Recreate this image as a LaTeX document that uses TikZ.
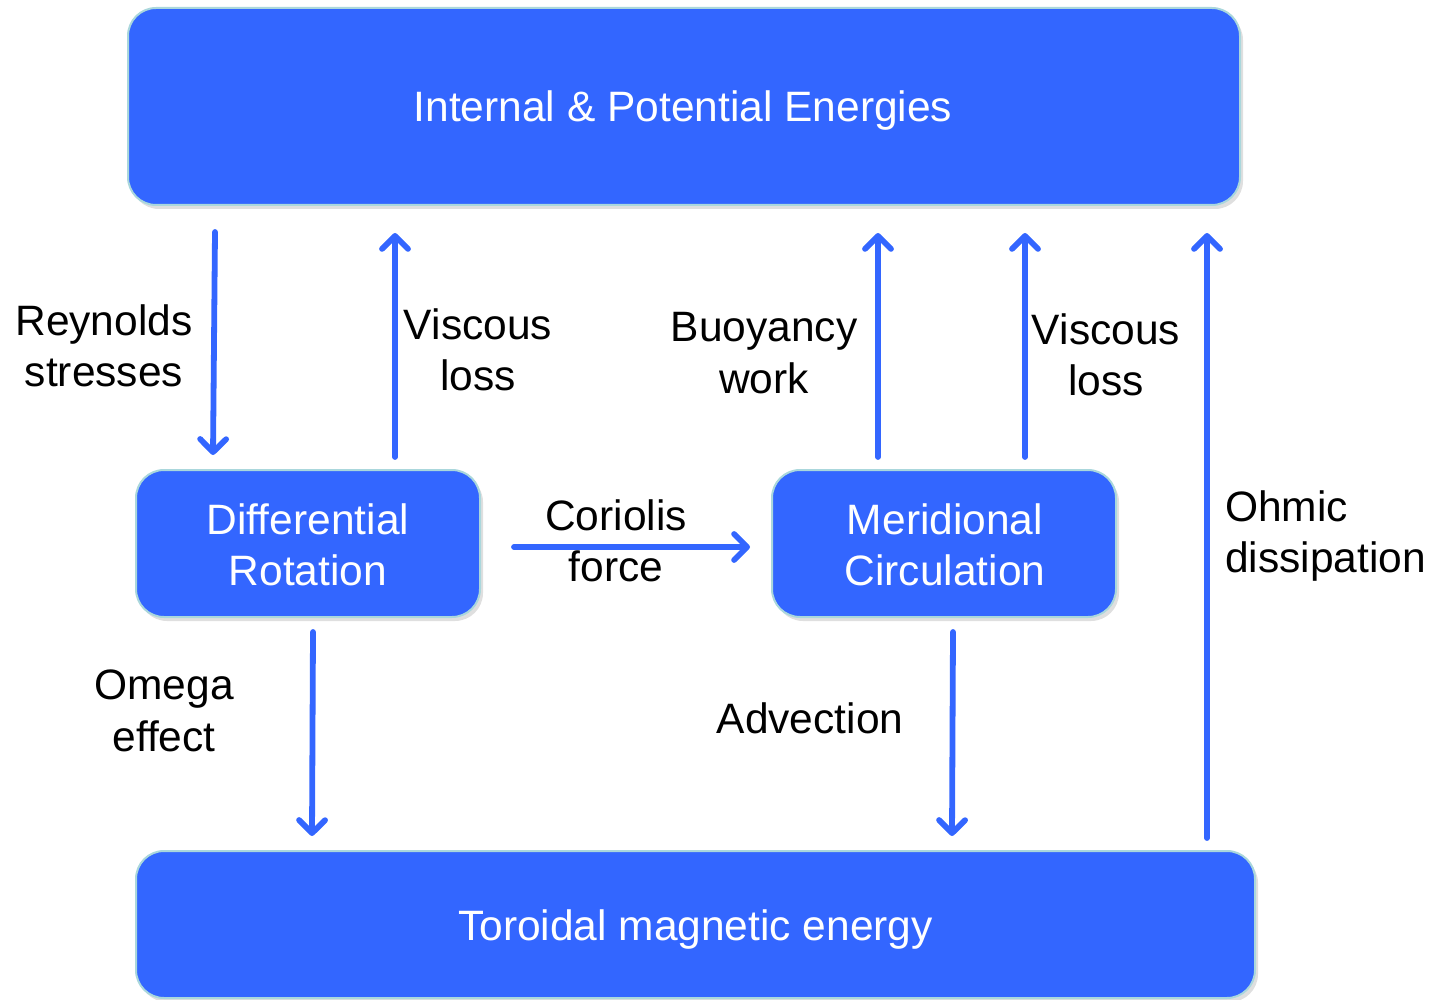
\documentclass[tikz,border=0pt]{standalone}
\usepackage{fontspec}
\setmainfont{Liberation Sans}
\usetikzlibrary{arrows.meta,shadows}
\definecolor{boxblue}{RGB}{51,102,255}
\definecolor{boxedge}{RGB}{170,215,220}
\begin{document}
\begin{tikzpicture}[x=1pt,y=-1pt,
  box/.style={draw=boxedge, line width=2pt, fill=boxblue, rounded corners=28pt,
    inner sep=0pt,
    drop shadow={shadow xshift=3pt, shadow yshift=-4pt, opacity=0.25}},
  lbl/.style={align=center, font=\fontsize{42.5}{51.5}\selectfont, inner sep=0pt},
  arr/.style={draw=boxblue, line width=5.8pt, line cap=round,
    -{Straight Barb[length=13pt,width=26pt,round]}}
]
\useasboundingbox (0,0) rectangle (1445,1000);

% boxes
\node[box, minimum width=1112pt, minimum height=197pt] (top) at (684,106.5) {};
\node[box, minimum width=344pt, minimum height=147pt] (dr) at (308,543.5) {};
\node[box, minimum width=344pt, minimum height=147pt] (mc) at (944,543.5) {};
\node[box, minimum width=1119pt, minimum height=147pt] (bot) at (695.5,924.5) {};

% box texts
\node[lbl, text=white] (ttop) at (683,111) {Internal \& Potential Energies};
\node[lbl, text=white] (tdr) at (308,545) {Differential\\Rotation};
\node[lbl, text=white] (tmc) at (945,545) {Meridional\\Circulation};
\node[lbl, text=white] (tbot) at (695.5,930) {Toroidal magnetic energy};

% arrow end points
\coordinate (r1) at (215,232);   \coordinate (r2) at (213,455);
\coordinate (v1) at (395,457);   \coordinate (v2) at (395,233);
\coordinate (b1) at (878,457);   \coordinate (b2) at (878,233);
\coordinate (w1) at (1025,457);  \coordinate (w2) at (1025,233);
\coordinate (o1) at (1207,838);  \coordinate (o2) at (1207,233);
\coordinate (c1) at (514,547);   \coordinate (c2) at (750,547);
\coordinate (m1) at (313,632);   \coordinate (m2) at (312,836);
\coordinate (d1) at (953,632);   \coordinate (d2) at (952,836);

\draw[arr] (r1) -- (r2);
\draw[arr] (v1) -- (v2);
\draw[arr] (b1) -- (b2);
\draw[arr] (w1) -- (w2);
\draw[arr] (o1) -- (o2);
\draw[arr] (c1) -- (c2);
\draw[arr] (m1) -- (m2);
\draw[arr] (d1) -- (d2);

% labels
\node[lbl] (lr) at (104,346) {Reynolds\\stresses};
\node[lbl] (lv) at (478,350) {Viscous\\loss};
\node[lbl] (lb) at (764,353) {Buoyancy\\work};
\node[lbl] (lw) at (1106,355) {Viscous\\loss};
\node[lbl, align=left, anchor=west] (lo) at (1225,536) {Ohmic\\dissipation};
\node[lbl] (lc) at (616,541) {Coriolis\\force};
\node[lbl] (lm) at (164,711) {Omega\\effect};
\node[lbl] (la) at (810,718) {Advection};
\end{tikzpicture}
\end{document}
